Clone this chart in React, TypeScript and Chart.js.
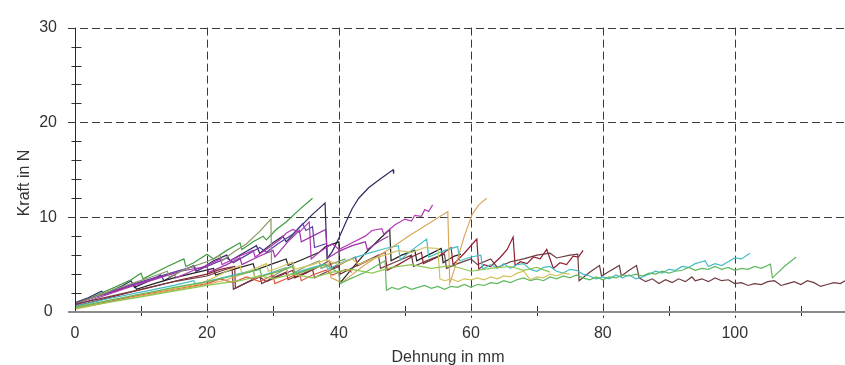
import React, { useEffect, useRef } from "react";
import { Chart, registerables } from "chart.js";

Chart.register(...registerables);

// ---- axis ranges & ticks ----
const X_MIN = 0;
const X_MAX = 116.7;
const Y_MIN = 0;
const Y_MAX = 30;
const xMajorTicks = [20, 40, 60, 80, 100];
const xMinorTicks = [10, 30, 50, 70, 90, 110];
const yMajorTicks = [10, 20, 30];
const yMinorTicks = [2, 4, 6, 8, 12, 14, 16, 18, 22, 24, 26, 28];
const xTitle = "Dehnung in mm";
const yTitle = "Kraft in N";

// ---- series (x in mm, y in N) ----
const navy = [[0,1.0],[2,1.5],[4,2.2],[4.5,1.9],[7,2.7],[8.5,3.3],[9,2.6],[11,3.2],[13,3.9],[13.5,3.3],[16,4.3],[18,4.9],[18.5,4.3],[21,5.4],[23,6.0],[23.5,5.4],[26,6.4],[27.5,7.0],[28,6.2],[30,7.3],[31.5,8.0],[32,7.4],[34,8.9],[36,10.3],[37.9,11.5],[38.2,5.6],[39,6.4],[40,7.8],[41,9.4],[42,10.9],[43,12.0],[44.5,13.1],[46,13.9],[48.2,15.0],[48.3,14.6]];
const green = [[0,1.0],[2,1.4],[4,2.0],[6,2.6],[8.5,3.4],[10,4.1],[10.3,3.5],[12,4.1],[14,4.8],[16.5,5.6],[16.8,4.8],[18,5.2],[20,6.1],[21,5.6],[23,6.5],[25,7.3],[25.3,6.6],[27,7.4],[28.5,8.0],[29,7.6],[30.5,8.7],[32,9.5],[34,10.8],[36,12.0]];
const olive = [[0,0.8],[3,1.6],[6,2.4],[9,3.1],[12,3.8],[14,4.3],[14.3,3.7],[17,4.6],[20,5.3],[22,6.0],[22.3,5.4],[24,6.3],[26,7.2],[28,8.5],[29.7,9.8],[29.8,3.7],[31,4.2],[33,4.9],[33.3,4.2],[35,4.8],[37,5.4],[37.3,4.6],[39,5.1],[41,5.6]];
const magenta = [[0,0.7],[3,1.4],[6,2.1],[9,2.8],[12,3.4],[15,4.1],[15.3,3.6],[18,4.4],[20,4.9],[22,5.6],[22.3,5.0],[25,5.9],[27,6.5],[27.3,5.8],[29,6.6],[31,7.6],[32,8.3],[33,8.7],[34,8.4],[35.5,9.5],[35.8,5.6],[37,6.3],[39,7.2],[40,6.6],[42,7.3],[44,8.0],[45,8.6],[46.5,8.8],[46.8,8.2],[48.5,9.2],[50,9.8],[51,9.6],[51.5,10.2],[52.5,10.1],[53,10.8],[53.6,10.6],[54.2,11.3]];
const violet = [[0,0.9],[3,1.6],[6,2.3],[9,3.0],[12,3.6],[15,4.2],[18,4.8],[18.3,4.3],[21,5.1],[23,5.7],[24,5.2],[26,6.0],[28,6.8],[29,6.3],[31,7.3],[33,8.2],[34.5,9.3],[35,8.6],[36,9.0],[36.3,6.8],[38,7.2]];
const black = [[0,0.9],[3,1.6],[6,2.2],[9,2.9],[9.3,2.4],[12,3.0],[15,3.6],[18,4.1],[21,4.6],[21.3,3.9],[24,4.5],[27,5.1],[27.3,4.4],[30,5.1],[32,5.6],[32.3,4.9],[35,5.7],[37,6.3],[38,6.9],[40,7.4],[40.1,3.0],[42,4.6],[44,6.2],[46,7.6],[47.7,8.7],[47.9,5.4],[49.5,6.0],[51.5,6.5],[51.8,5.4],[53.5,6.0],[55.5,6.7],[55.8,5.2],[57.5,5.9],[58.5,6.1]];
const darkRed = [[0,0.6],[4,1.3],[8,2.0],[12,2.7],[16,3.4],[20,4.0],[22,4.5],[24.2,4.8],[24.3,2.5],[26,3.1],[28,3.7],[29,3.2],[31,3.8],[33,4.4],[33.3,3.6],[35,4.1],[37,4.8],[38.5,5.4],[39,4.6],[41,5.3],[42.5,5.8],[42.8,4.9],[45,5.6],[47,6.3],[47.3,4.4],[49,5.0],[51,5.8],[52.5,6.3],[52.8,5.1],[55,5.8],[57,6.8],[57.3,5.0],[59,6.2],[60.9,7.7],[61.2,4.5],[62,5.0],[63,4.8],[64.5,5.8],[65.5,6.6],[66.4,7.9],[66.7,4.9],[67.5,5.3],[68.5,5.1],[69.5,5.8],[70.5,5.6],[71.5,6.6],[72.5,4.6],[73.5,5.2],[74.5,5.0],[75.5,5.9],[76.3,5.8],[77,6.5]];
const orange = [[0,0.3],[5,1.0],[10,1.7],[15,2.3],[20,2.9],[23,3.4],[25,3.9],[27,4.3],[27.3,3.6],[30,4.1],[32,4.6],[32.3,3.9],[35,4.3],[37,4.8],[38.5,5.1],[38.8,3.6],[40.4,3.1],[44,5.0],[48,6.8],[51,8.2],[54,9.5],[56.5,10.6],[56.8,3.0],[58,5.6],[59,8.0],[60.2,10.3],[61.2,11.3],[62.4,12.0]];
const yellow = [[0,0.5],[5,1.2],[10,1.9],[15,2.5],[19,3.0],[21,3.6],[23,4.3],[25,4.9],[25.3,4.0],[27,4.5],[29,5.1],[29.3,4.3],[31,4.7],[33,5.3],[33.3,4.5],[36,5.0],[38,5.5],[40,5.0],[42,5.6],[43,5.0],[45,5.6],[47,6.0],[49,6.5],[51,6.3],[53,6.8],[55,6.7],[55.3,3.5],[56,3.3],[57,3.5],[58,3.2],[59,3.5],[60,3.4],[61,3.6],[62,3.4],[63,3.7],[64,3.5],[65,3.8],[66,3.7],[67,4.1],[68,4.3],[69,3.4],[70,3.7],[71,3.6],[72,4.0],[73,3.8],[74,4.1],[75,4.0]];
const cyan = [[0,0.6],[5,1.4],[10,2.1],[15,2.8],[18,3.3],[18.3,2.9],[21,3.4],[24,3.9],[27,4.4],[27.3,3.6],[30,4.2],[32,4.7],[32.3,3.9],[35,4.5],[38,5.1],[38.3,4.5],[41,5.4],[44,6.1],[47,6.7],[49,7.0],[49.3,5.5],[51,6.5],[53.3,7.7],[53.6,5.8],[56,6.5],[58,6.9],[58.3,5.4],[60,5.8],[61.5,6.0],[61.8,4.5],[63,5.0],[64,4.6],[65,5.1],[66,4.6],[67,5.0],[68,5.1],[69,4.5],[70,4.3],[71,4.7],[72,4.8],[73,4.3],[74,4.1],[75,4.5],[76,4.4],[77,4.0],[78,3.8],[79,3.5],[80,3.7],[81,3.5],[82,3.9],[83,3.6],[84,3.9],[85,3.5],[86,3.7],[87,4.0],[88,4.3],[89,4.1],[90,4.5],[91,4.4],[92,4.8],[93,4.7],[94,5.1],[95,5.3],[95.5,5.4],[96,4.8],[97,5.1],[98,4.9],[99,5.3],[100,5.7],[101,5.6],[102.3,6.2]];
const lightGreen = [[0,0.5],[5,1.2],[10,1.9],[15,2.6],[20,3.2],[24,3.8],[28,4.5],[28.3,3.8],[31,4.3],[33,4.8],[33.3,4.0],[36,4.6],[38,5.0],[40,4.1],[40.2,3.0],[42,3.6],[44,4.2],[45.5,4.8],[47,5.4],[47.2,2.3],[48,2.6],[49,2.4],[50,2.7],[51,2.4],[52,2.6],[53,2.8],[54,2.5],[55,2.7],[56,2.4],[57,2.7],[58,2.6],[59,2.9],[60,2.6],[61,2.9],[62,2.8],[63,3.1],[64,3.0],[65,3.3],[66,3.1],[67,3.4],[68,3.6],[69,3.3],[70,3.5],[71,3.3],[72,3.7],[73,3.5],[74,3.8],[75,3.6],[76,3.9],[77,3.6],[78,3.4],[79,3.7],[80,3.4],[81,3.7],[82,3.6],[83,3.9],[84,3.8],[85,4.0],[86,3.8],[87,4.1],[88,4.0],[89,4.3],[90,4.1],[91,4.3],[92,4.4],[93,4.7],[94,4.4],[95,4.6],[96,4.5],[97,4.8],[98,4.5],[99,4.7],[100,4.4],[101,4.6],[102,4.5],[103,4.8],[104,4.6],[105.4,5.05],[105.7,3.6],[107.5,4.8],[109.3,5.8]];
const yellowGreen = [[0,0.4],[5,1.0],[10,1.6],[15,2.2],[20,2.8],[25,3.3],[28,3.8],[30,3.5],[33,4.0],[36,3.6],[39,4.2],[42,4.5],[45,4.1],[48,4.7],[51,5.0],[54,4.6],[57,4.9],[60,4.3],[63,4.6],[66,4.8],[68,4.4],[70,4.7],[72,4.2]];
const brown = [[0,0.8],[5,1.6],[10,2.4],[15,3.2],[20,3.8],[22,4.3],[23.8,4.7],[24,2.4],[26,3.1],[28,3.8],[28.3,3.0],[30,3.6],[32,4.2],[32.3,3.4],[34,3.9],[36,4.5],[36.3,3.6],[38,4.2],[40,4.8],[40.2,4.0],[43,5.0],[46,6.0],[46.3,4.6],[49,5.4],[51,6.0],[51.3,4.8],[54,5.6],[56,6.1],[56.3,4.6],[58,5.1],[60,5.6],[61,5.0],[63,5.6],[64,4.7],[66,5.3],[68,5.6],[70,6.0],[72,6.2],[73,5.7],[75,6.0],[76.2,6.1],[76.4,3.3],[78,4.2],[79.5,4.9],[79.8,3.8],[81,4.3],[82.5,4.9],[82.8,3.8],[84,4.4],[85.1,4.9],[85.5,3.6],[86.5,3.2],[87.5,3.5],[88.5,3.0],[89.5,3.4],[90.5,3.1],[91.5,3.5],[92.5,3.2],[93.5,3.7],[94,3.3],[95,3.5],[96,3.2],[97,3.6],[98,3.3],[99,3.4],[100,3.0],[101,3.1],[102,2.8],[103,3.0],[104,2.9],[105,3.2],[106,3.3],[107,2.8],[108,3.0],[109,3.2],[110,2.9],[111,3.3],[112,3.1],[113,2.7],[114,2.9],[115,3.1],[116,3.0],[116.7,3.3]];
const redOrange = [[0,0.4],[5,1.1],[10,1.8],[15,2.4],[20,3.0],[22,3.5],[24,3.1],[26,3.7],[28,3.2],[30,3.9],[30.3,3.0],[32,3.5],[34,4.1],[34.3,3.3],[36,3.9],[38,4.4],[39,3.9],[41,4.5],[42,4.2]];
const purple = [[0,0.9],[4,1.8],[8,2.7],[12,3.5],[16,4.3],[20,4.8],[20.3,4.2],[23,5.0],[25,5.7],[25.3,5.0],[28,5.9],[30,6.5],[30.3,5.8],[32.5,7.6],[34,8.6],[34.3,7.4],[36,8.0],[38,8.7],[38.3,5.7],[40,6.4],[42,7.0],[44,7.4],[44.3,6.6],[46,7.4],[47.5,8.0]];

const seriesList: [number[][], string][] = [
  [yellowGreen, "#8cc850"],
  [lightGreen, "#5fb85f"],
  [yellow, "#d2c35c"],
  [orange, "#d9a75c"],
  [redOrange, "#e0583c"],
  [cyan, "#44bcc6"],
  [brown, "#6e3a40"],
  [darkRed, "#901f30"],
  [olive, "#8a9a6a"],
  [purple, "#9a35a8"],
  [magenta, "#b23ab2"],
  [violet, "#5b3fa8"],
  [black, "#222222"],
  [green, "#3f9b3f"],
  [navy, "#2b2b60"],
];

const TEXT_COLOR = "#333333";
const FONT_FAMILY = "'Liberation Sans', Arial, sans-serif";

const framePlugin = {
  id: "frame",
  beforeDatasetsDraw(chart: any) {
    const { ctx, chartArea: a, scales } = chart;
    const x = scales.x;
    const y = scales.y;
    ctx.save();
    ctx.strokeStyle = "#3a3a3a";
    ctx.lineWidth = 1;
    ctx.setLineDash([8, 4]);
    for (const v of xMajorTicks) {
      const px = Math.round(x.getPixelForValue(v)) + 0.5;
      ctx.beginPath();
      ctx.moveTo(px, a.top);
      ctx.lineTo(px, a.bottom + 6);
      ctx.stroke();
    }
    for (const v of yMajorTicks) {
      const py = Math.round(y.getPixelForValue(v)) + 0.5;
      ctx.beginPath();
      ctx.moveTo(a.left - 7, py);
      ctx.lineTo(a.right, py);
      ctx.stroke();
    }
    ctx.restore();
  },
  afterDatasetsDraw(chart: any) {
    const { ctx, chartArea: a, scales } = chart;
    const x = scales.x;
    const y = scales.y;
    const x0 = Math.round(x.getPixelForValue(0)) + 0.5;
    const y0 = Math.round(y.getPixelForValue(0));
    ctx.save();
    ctx.strokeStyle = "#333333";
    ctx.lineWidth = 1;
    for (const v of xMinorTicks) {
      const px = Math.round(x.getPixelForValue(v)) + 0.5;
      ctx.beginPath();
      ctx.moveTo(px, y0 - 6);
      ctx.lineTo(px, y0 + 4);
      ctx.stroke();
    }
    for (const v of yMinorTicks) {
      const py = Math.round(y.getPixelForValue(v)) + 0.5;
      ctx.beginPath();
      ctx.moveTo(x0 - 4, py);
      ctx.lineTo(x0 + 6, py);
      ctx.stroke();
    }
    ctx.strokeStyle = "#2a2a2a";
    ctx.beginPath();
    ctx.moveTo(x0, a.top);
    ctx.lineTo(x0, y0);
    ctx.stroke();
    ctx.strokeStyle = "#8a8a8a";
    ctx.lineWidth = 2;
    ctx.beginPath();
    ctx.moveTo(a.left - 7, y0);
    ctx.lineTo(a.right, y0);
    ctx.stroke();
    ctx.fillStyle = TEXT_COLOR;
    ctx.font = `16px ${FONT_FAMILY}`;
    ctx.textAlign = "center";
    ctx.textBaseline = "alphabetic";
    ctx.fillText(xTitle, 448, 362);
    ctx.translate(25, 183);
    ctx.rotate(-Math.PI / 2);
    ctx.textBaseline = "middle";
    ctx.fillText(yTitle, 0, 0);
    ctx.restore();
  },
};

export default function App() {
  const canvasRef = useRef<HTMLCanvasElement | null>(null);

  useEffect(() => {
    const canvas = canvasRef.current;
    if (!canvas) return;
    const chart = new Chart(canvas, {
      type: "scatter",
      data: {
        datasets: seriesList.map(([pts, color], i) => ({
          label: "S" + (i + 1),
          data: pts.map(([px, py]) => ({ x: px, y: py })),
          showLine: true,
          borderColor: color,
          backgroundColor: color,
          borderWidth: 1.2,
          pointRadius: 0,
          pointHoverRadius: 0,
          tension: 0,
          fill: false,
        })),
      },
      options: {
        responsive: false,
        animation: false,
        events: [],
        layout: { autoPadding: false, padding: { top: 14, left: 0, right: 0, bottom: 0 } },
        plugins: {
          legend: { display: false },
          tooltip: { enabled: false },
          title: { display: false },
        },
        scales: {
          x: {
            type: "linear",
            min: X_MIN,
            max: X_MAX,
            grid: { display: false, drawTicks: false, tickLength: 0 },
            border: { display: false },
            ticks: {
              stepSize: 20,
              includeBounds: false,
              padding: 12,
              maxRotation: 0,
              color: TEXT_COLOR,
              font: { family: FONT_FAMILY, size: 16 },
            },
            afterFit: (scale: any) => {
              scale.height = 53;
            },
          },
          y: {
            type: "linear",
            min: Y_MIN,
            max: Y_MAX,
            grid: { display: false, drawTicks: false, tickLength: 0 },
            border: { display: false },
            ticks: {
              stepSize: 10,
              padding: 18,
              crossAlign: "center",
              color: TEXT_COLOR,
              font: { family: FONT_FAMILY, size: 16 },
            },
            afterFit: (scale: any) => {
              scale.width = 75;
            },
          },
        },
      },
      plugins: [framePlugin],
    });
    return () => chart.destroy();
  }, []);

  return (
    <div style={{ position: "fixed", left: 0, top: 0, width: 845, height: 365, background: "#ffffff" }}>
      <canvas ref={canvasRef} width={845} height={365} style={{ display: "block" }} />
    </div>
  );
}
